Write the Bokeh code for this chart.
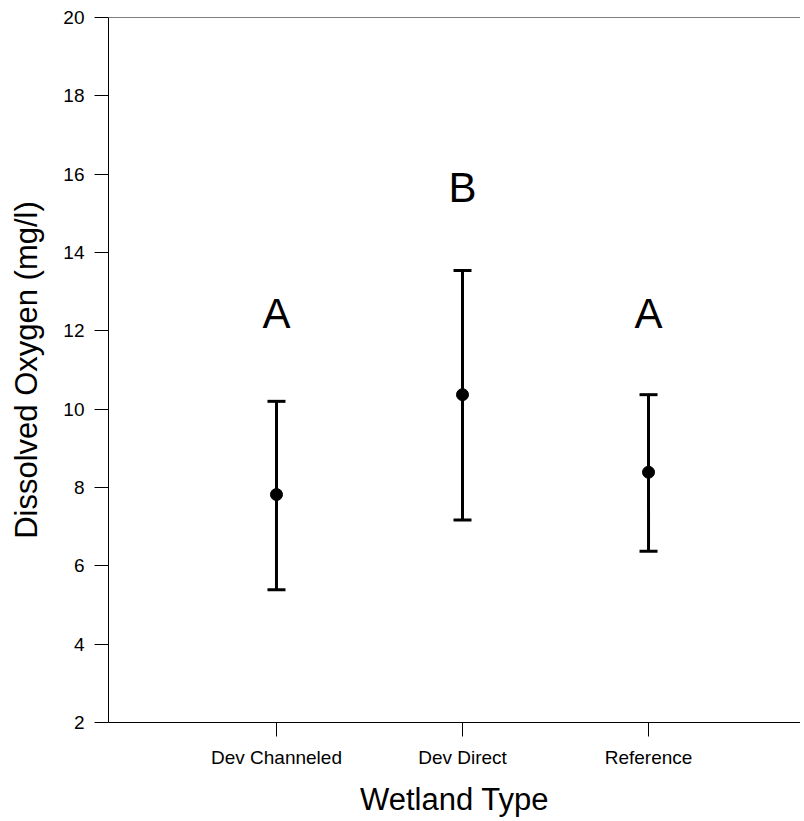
from bokeh.plotting import figure
from bokeh.models import Range1d, Span, FixedTicker, ColumnDataSource, Whisker, TeeHead
from bokeh.core.properties import value
from bokeh.embed import file_html
from bokeh.resources import INLINE

categories = ["Dev Channeled", "Dev Direct", "Reference"]
means = [7.82, 10.37, 8.39]
upper = [10.20, 13.54, 10.37]
lower = [5.39, 7.17, 6.37]
letters = ["A", "B", "A"]
letter_y = [12.45, 15.66, 12.45]
y_ticks = [2, 4, 6, 8, 10, 12, 14, 16, 18, 20]

FONT = "Liberation Sans"
xpos = list(range(1, len(categories) + 1))

src = ColumnDataSource(dict(x=xpos, mean=means, upper=upper, lower=lower))
lsrc = ColumnDataSource(dict(x=xpos, y=letter_y, t=letters))

p = figure(width=800, height=819, output_backend="svg", toolbar_location=None,
           x_range=Range1d(0.097, 3.817), y_range=Range1d(2, 20),
           min_border_left=108, min_border_right=0, min_border_top=17, min_border_bottom=40)
p.outline_line_color = None
p.xgrid.visible = False
p.ygrid.visible = False
p.background_fill_color = "white"
p.border_fill_color = "white"

# axes
p.xaxis.ticker = FixedTicker(ticks=xpos)
p.xaxis.major_label_overrides = {i: c for i, c in zip(xpos, categories)}
p.yaxis.ticker = FixedTicker(ticks=y_ticks)
for ax in (p.xaxis[0], p.yaxis[0]):
    ax.axis_line_color = "black"
    ax.axis_line_width = 1
    ax.major_tick_line_color = "black"
    ax.major_tick_line_width = 1
    ax.major_tick_out = 14
    ax.major_tick_in = 0
    ax.minor_tick_line_color = None
    ax.major_label_text_font = FONT
    ax.major_label_text_font_size = "19px"
    ax.major_label_text_color = "black"
    ax.axis_label_text_font = FONT
    ax.axis_label_text_font_size = "31px"
    ax.axis_label_text_font_style = "normal"
    ax.axis_label_text_color = "black"

p.xaxis.axis_label = "Wetland Type"
p.yaxis.axis_label = "Dissolved Oxygen (mg/l)"
p.xaxis.major_label_standoff = 10
p.yaxis.major_label_standoff = 10
p.xaxis.axis_label_standoff = 11
p.yaxis.axis_label_standoff = 16

p.add_layout(Span(location=20, dimension="width", line_color="black", line_width=1))

w = Whisker(source=src, base="x", upper="upper", lower="lower",
            line_color="black", line_width=3,
            upper_head=TeeHead(size=18, line_width=3, line_color="black"),
            lower_head=TeeHead(size=18, line_width=3, line_color="black"))
p.add_layout(w)

p.scatter(x="x", y="mean", source=src, size=12, color="black")

p.text(x="x", y="y", text="t", source=lsrc, text_font=value(FONT),
       text_font_size="42px", text_align="center", text_baseline="middle",
       text_color="black")

open("out.html", "w").write(file_html(p, INLINE))
